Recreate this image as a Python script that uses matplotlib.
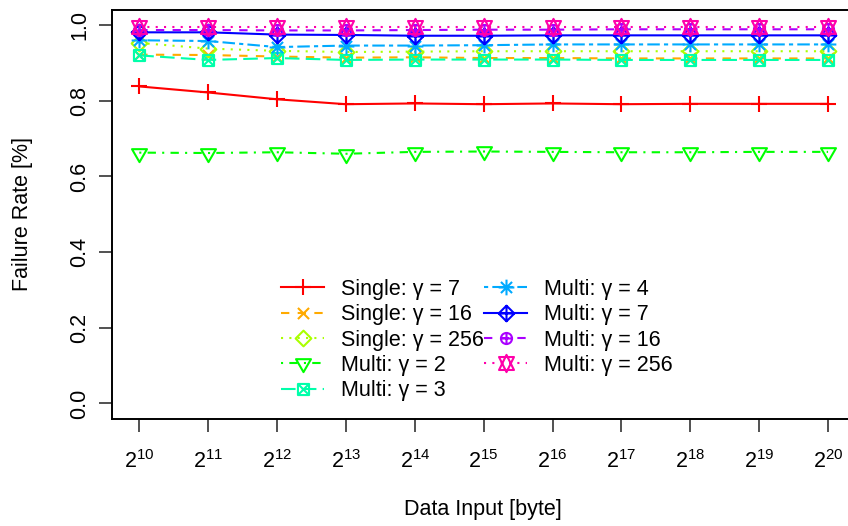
import numpy as np
import matplotlib
matplotlib.use("Agg")
import matplotlib.pyplot as plt
from matplotlib.path import Path

plt.rcParams["font.family"] = ["Liberation Sans", "DejaVu Sans"]
plt.rcParams["mathtext.fontset"] = "custom"
plt.rcParams["mathtext.rm"] = "Liberation Sans"
plt.rcParams["mathtext.it"] = "Liberation Sans:italic"
plt.rcParams["mathtext.default"] = "regular"

# ---- data -------------------------------------------------------------
exponents = [10, 11, 12, 13, 14, 15, 16, 17, 18, 19, 20]
x_tick_labels = [f"$2^{{{e}}}$" for e in exponents]

series_labels = [
    "Single: γ = 7", "Single: γ = 16", "Single: γ = 256",
    "Multi: γ = 2", "Multi: γ = 3", "Multi: γ = 4",
    "Multi: γ = 7", "Multi: γ = 16", "Multi: γ = 256",
]

single_7 = [0.838, 0.822, 0.804, 0.791, 0.793, 0.791, 0.793, 0.791, 0.792, 0.792, 0.792]
single_16 = [0.922, 0.921, 0.917, 0.914, 0.915, 0.913, 0.913, 0.912, 0.912, 0.912, 0.912]
single_256 = [0.953, 0.938, 0.932, 0.929, 0.930, 0.931, 0.931, 0.931, 0.931, 0.931, 0.931]
multi_2 = [0.663, 0.662, 0.664, 0.660, 0.665, 0.666, 0.665, 0.664, 0.664, 0.665, 0.665]
multi_3 = [0.920, 0.908, 0.913, 0.908, 0.909, 0.909, 0.909, 0.908, 0.908, 0.908, 0.908]
multi_4 = [0.960, 0.958, 0.942, 0.946, 0.946, 0.947, 0.949, 0.949, 0.949, 0.949, 0.949]
multi_7 = [0.981, 0.981, 0.975, 0.974, 0.972, 0.972, 0.973, 0.973, 0.973, 0.973, 0.973]
multi_16 = [0.987, 0.987, 0.986, 0.986, 0.987, 0.988, 0.988, 0.989, 0.989, 0.989, 0.989]
multi_256 = [0.996, 0.996, 0.996, 0.996, 0.996, 0.996, 0.996, 0.996, 0.996, 0.996, 0.996]

all_series = [single_7, single_16, single_256, multi_2, multi_3,
              multi_4, multi_7, multi_16, multi_256]

# rainbow(9)
colors = ["#FF0000", "#FFAA00", "#AAFF00", "#00FF00", "#00FFAA",
          "#00AAFF", "#0000FF", "#AA00FF", "#FF00AA"]

# line types: solid, dashed, dotted, dotdash, longdash, twodash (cycled)
dash_patterns = [None, (4, 4), (1, 3), (1, 3, 4, 3), (7, 3), (2, 2, 6, 2),
                 None, (4, 4), (1, 3)]


# ---- plotting symbols (plus, times, diamond, ...) ----------------------
def seg(x0, y0, x1, y1):
    return Path([(x0, y0), (x1, y1)], [Path.MOVETO, Path.LINETO])


def poly(pts):
    return Path(list(pts) + [pts[0]],
                [Path.MOVETO] + [Path.LINETO] * (len(pts) - 1) + [Path.CLOSEPOLY])


R2 = np.sqrt(2.0)
TRC0 = np.sqrt(4 * np.pi / (3 * np.sqrt(3)))
TRC1 = TRC0 * np.sqrt(3) / 2
TRC2 = TRC0 / 2


def sym_plus(s=R2):
    return Path.make_compound_path(seg(-s, 0, s, 0), seg(0, -s, 0, s))


def sym_times(s=1.0):
    return Path.make_compound_path(seg(-s, -s, s, s), seg(-s, s, s, -s))


def sym_diamond(s=R2):
    return poly([(0, -s), (s, 0), (0, s), (-s, 0)])


def sym_tri_down():
    r, yc, xc = TRC0, TRC2, TRC1
    return poly([(0, -r), (xc, yc), (-xc, yc)])


def sym_square_times():
    return Path.make_compound_path(poly([(-1, -1), (1, -1), (1, 1), (-1, 1)]),
                                   sym_times(1.0))


def sym_asterisk():
    return Path.make_compound_path(sym_times(1.0), sym_plus(R2))


def sym_diamond_plus():
    return Path.make_compound_path(sym_diamond(R2), sym_plus(R2))


def sym_circle_plus():
    return Path.make_compound_path(Path.circle((0, 0), 1.0), sym_plus(1.0))


def sym_star():
    r = TRC0
    yc = 0.5 * (TRC2 + TRC0)
    xc = TRC1
    return Path.make_compound_path(poly([(0, -r), (xc, yc), (-xc, yc)]),
                                   poly([(0, r), (xc, -yc), (-xc, -yc)]))


symbols = [sym_plus(), sym_times(), sym_diamond(), sym_tri_down(),
           sym_square_times(), sym_asterisk(), sym_diamond_plus(),
           sym_circle_plus(), sym_star()]

SYM_UNIT = 4.0  # points per symbol unit


def marker_size(p):
    return 2 * np.abs(p.vertices).max() * SYM_UNIT


# ---- figure -----------------------------------------------------------
W, H = 848, 526
fig = plt.figure(figsize=(W / 100, H / 100), dpi=100)
left_px, right_px, top_px, bottom_px = 111.7, 855.6, 10.0, 418.6
ax = fig.add_axes([left_px / W, 1 - bottom_px / H,
                   (right_px - left_px) / W, (bottom_px - top_px) / H])

FS = 15.5
LW = 1.5

handles = []
for vals, lab, col, dash, sym in zip(all_series, series_labels, colors,
                                     dash_patterns, symbols):
    ln, = ax.plot(exponents, vals, color=col, lw=LW, marker=sym,
                  markersize=marker_size(sym), markerfacecolor="none",
                  markeredgecolor=col, markeredgewidth=LW, label=lab,
                  clip_on=False)
    if dash is None:
        ln.set_linestyle("-")
    else:
        ln.set_dashes(dash)
    handles.append(ln)

ax.set_xlim(9.6, 20.4)
ax.set_ylim(-0.04, 1.04)

ax.set_xticks(exponents)
ax.set_xticklabels(x_tick_labels, fontsize=FS)
ax.set_yticks([0.0, 0.2, 0.4, 0.6, 0.8, 1.0])
ax.set_yticklabels(["0.0", "0.2", "0.4", "0.6", "0.8", "1.0"], fontsize=FS,
                   rotation=90, va="center")

ax.tick_params(axis="both", direction="out", length=9.5, width=1.2,
               color="#333333")
ax.tick_params(axis="x", pad=13)
ax.tick_params(axis="y", pad=6)

for sp in ax.spines.values():
    sp.set_linewidth(1.4)
    sp.set_color("black")

fig.text(483 / W, 1 - 510 / H, "Data Input [byte]", fontsize=FS,
         ha="center", va="center")
fig.text(23 / W, 1 - 214 / H, "Failure Rate [%]", fontsize=FS,
         ha="center", va="center", rotation=90)

leg = ax.legend(handles=handles, ncol=2, frameon=False, fontsize=FS,
                loc="upper left", bbox_to_anchor=(281 / W, 1 - 279 / H),
                bbox_transform=fig.transFigure, borderpad=0,
                handlelength=2.0, handletextpad=0.8, columnspacing=0.0,
                labelspacing=0.2, borderaxespad=0)

fig.savefig("out.png", dpi=100)
